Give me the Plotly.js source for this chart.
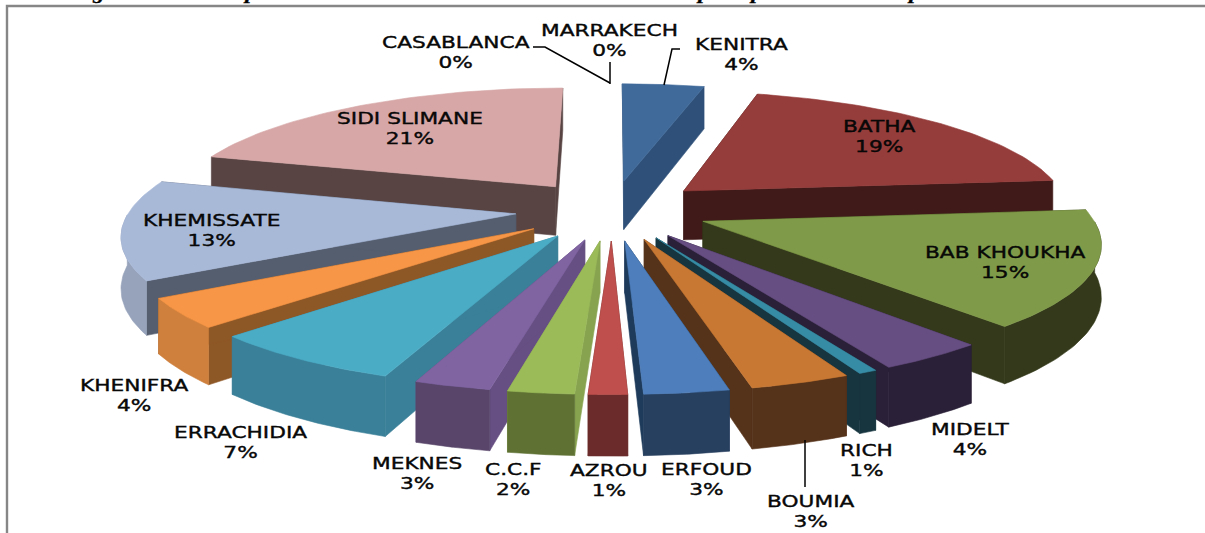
<!DOCTYPE html>
<html>
<head>
<meta charset="utf-8">
<script src="https://cdn.plot.ly/plotly-3.0.1.min.js"></script>
<style>
html,body{margin:0;padding:0;background:#fff;overflow:hidden}
.annotation-text{transform-box:fill-box;transform-origin:center;transform:scaleX(1.4);stroke:#000;stroke-width:.35px}
</style>
</head>
<body>
<div id="chart" style="width:1205px;height:533px"></div>
<script>
// Data, clockwise from the top of the pie (printed labels are these, rounded)
var categories = ["KENITRA","BATHA","BAB KHOUKHA","MIDELT","RICH","BOUMIA","ERFOUD","AZROU","C.C.F","MEKNES","ERRACHIDIA","KHENIFRA","KHEMISSATE","SIDI SLIMANE","CASABLANCA","MARRAKECH"];
var shares = [4.03,19.47,15.11,3.8,0.64,3.47,2.92,1.33,2.28,2.64,6.94,3.83,12.97,20.56,0,0];

// Styles
var topColors   = ["#3F6A9A","#953D3B","#7F9A48","#664E82","#378CA5","#C87833","#4E7EBB","#BE4F4C","#9BBB59","#8064A2","#4BACC6","#F79646","#A8B9D8","#D7A7A7","#4F81BD","#C0504D"];
var outerColors = ["#2F5179","#3F1A18","#33391A","#2A2038","#17353F","#55321A","#28405F","#6A2B2A","#5F7234","#584569","#3A8098","#CE803C","#97A3BB","#B98C8C","#2F5179","#6A2B2A"];
var sideColors  = ["#2F5179","#3F1A18","#33391A","#2A2038","#17353F","#55321A","#1F3B5B","#6A2B2A","#88A350","#664F82","#3A8098","#8E5726","#545E6F","#574443","#2F5179","#6A2B2A"];

// Label centres in chart units
var labelX = [741,879,1005,970,866,811,706,609,513,417,240,134,211,410,456,609];
var labelY = [54,136,262,439,460,511,479,480,479,473,442,395,230,128,52,40];

// Projection of the exploded pie
var PIE = {cx:612, cy:210, a:386, b:120, k:0.15, explode:0.25, height:50};
function project(X, Y, drop){
  var s = 1 + PIE.k * Y;
  return [PIE.cx + PIE.a * X / s, PIE.cy - PIE.b * Y / s + (drop ? PIE.height / s : 0)];
}
function poly(points, color){
  var xs = points.map(function(p){return p[0];}), ys = points.map(function(p){return p[1];});
  xs.push(xs[0]); ys.push(ys[0]);
  return {type:"scatter", mode:"lines", x:xs, y:ys, fill:"toself", fillcolor:color,
          line:{width:0.6,color:color}, hoverinfo:"skip", showlegend:false};
}
var total = shares.reduce(function(a,b){return a+b;},0);
var slices = [], cum = 0;
shares.forEach(function(v,i){
  var t0 = cum/total*2*Math.PI; cum += v;
  var t1 = cum/total*2*Math.PI;
  if(v>0){
    var m = (t0+t1)/2;
    slices.push({i:i,t0:t0,t1:t1,ax:PIE.explode*Math.sin(m),ay:PIE.explode*Math.cos(m)});
  }
});
slices.sort(function(p,q){return q.ay-p.ay;});

var traces = [];
slices.forEach(function(s){
  var rim = [], front = [], n = 48;
  for(var j=0;j<=n;j++){
    var t = s.t0+(s.t1-s.t0)*j/n;
    var p = [s.ax+Math.sin(t), s.ay+Math.cos(t)];
    rim.push(p);
    if(Math.cos(t) <= 0) front.push(p);
  }
  var up = function(p){return project(p[0],p[1],false);};
  var dn = function(p){return project(p[0],p[1],true);};
  var apex = [s.ax,s.ay];
  // radial cut faces
  [rim[0],rim[n]].forEach(function(r){
    traces.push(poly([up(apex),up(r),dn(r),dn(apex)], sideColors[s.i]));
  });
  // outer wall, only where it faces the viewer
  if(front.length > 1){
    traces.push(poly(front.map(up).concat(front.slice().reverse().map(dn)), outerColors[s.i]));
  }
  // top face
  traces.push(poly([up(apex)].concat(rim.map(up)), topColors[s.i]));
});

// Leader lines
var leaders = [
  [[533,47],[545,47],[610,83]],
  [[610,62],[610,84]],
  [[680,49],[672,49],[664,85]],
  [[805,440],[805,487]]
];
leaders.forEach(function(l){
  traces.push({type:"scatter",mode:"lines",x:l.map(function(p){return p[0];}),y:l.map(function(p){return p[1];}),
    line:{color:"#000",width:1.5},hoverinfo:"skip",showlegend:false});
});
// Frame rule
traces.push({type:"scatter",mode:"lines",x:[1205,7,7],y:[6,6,533],line:{color:"#868686",width:2.4},hoverinfo:"skip",showlegend:false});

var annotations = categories.map(function(c,i){
  return {x:labelX[i],y:labelY[i],xref:"x",yref:"y",text:c+"<br>"+Math.round(shares[i])+"%",showarrow:false,
    xanchor:"center",yanchor:"middle",align:"center",
    font:{family:"DejaVu Sans",size:15.5,color:"#0a0a0a"}};
});

// Cut-off glyph tails of the caption above the frame
var cutGlyphs = ["g","p","p","p","p"];
var cutX = [98,250,703,756,914];
cutGlyphs.forEach(function(g,i){
  annotations.push({x:cutX[i],xref:"x",y:1,yref:"paper",yanchor:"middle",yshift:7,text:"<b><i>"+g+"</i></b>",showarrow:false,
    font:{family:"Liberation Serif",size:16,color:"#000"}});
});

Plotly.newPlot("chart",traces,{
  width:1205,height:533,margin:{l:0,r:0,t:0,b:0},
  paper_bgcolor:"#fff",plot_bgcolor:"#fff",showlegend:false,
  xaxis:{range:[0,1205],visible:false,fixedrange:true},
  yaxis:{range:[533,0],visible:false,fixedrange:true},
  annotations:annotations
},{displayModeBar:false,staticPlot:true});
</script>
</body>
</html>
